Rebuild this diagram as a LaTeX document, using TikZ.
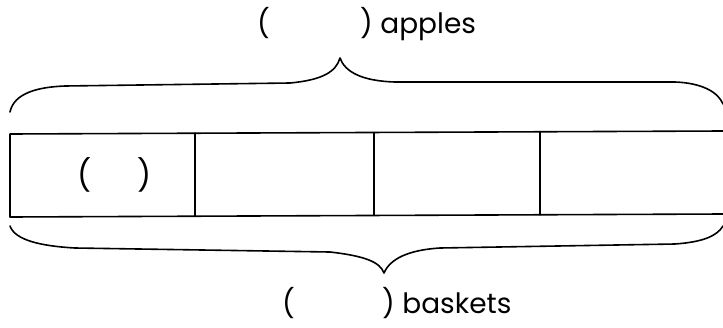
\documentclass[tikz,border=0pt]{standalone}
\usepackage{fontspec}
\setmainfont{Poppins}
\begin{document}
\begin{tikzpicture}[x=1pt,y=-1pt,
  ln/.style={line width=1.6pt,line cap=round,line join=round},
  lbl/.style={anchor=base west,inner sep=0pt,font=\fontsize{28}{30}\selectfont},
  blank/.style={anchor=base west,inner sep=0pt,font=\fontsize{31}{34}\selectfont}]
\useasboundingbox (0,0) rectangle (723,327);
% bar
\draw[ln] (723,131) -- (10,134) -- (10,217) -- (723,214);
\draw[ln] (195,133.2) -- (195,216.2);
\draw[ln] (374,132.4) -- (374,215.4);
\draw[ln] (540,131.8) -- (540,214.8);
% top brace
\draw[ln] (10,112) .. controls (14,93) and (38,87) .. (65,86) -- (290,83)
  .. controls (322,80) and (336,72) .. (340,58)
  .. controls (345,72) and (362,81) .. (395,82) -- (675,82)
  .. controls (702,83) and (718,92) .. (723,104);
% bottom brace
\draw[ln] (10,226) .. controls (15,240) and (40,246) .. (75,248) -- (330,252)
  .. controls (365,256) and (380,262) .. (384,273)
  .. controls (390,259) and (408,250) .. (440,248) -- (675,244)
  .. controls (703,242) and (717,236) .. (723,226);
% labels
\node[lbl] (apples) at (257,33) {\makebox[103pt][l]{(})\ apples};
\node[lbl] (baskets) at (282,313) {\makebox[100pt][l]{(})\ baskets};
\node[blank] (cell) at (77,186) {\makebox[60pt][l]{(})};
\end{tikzpicture}
\end{document}
